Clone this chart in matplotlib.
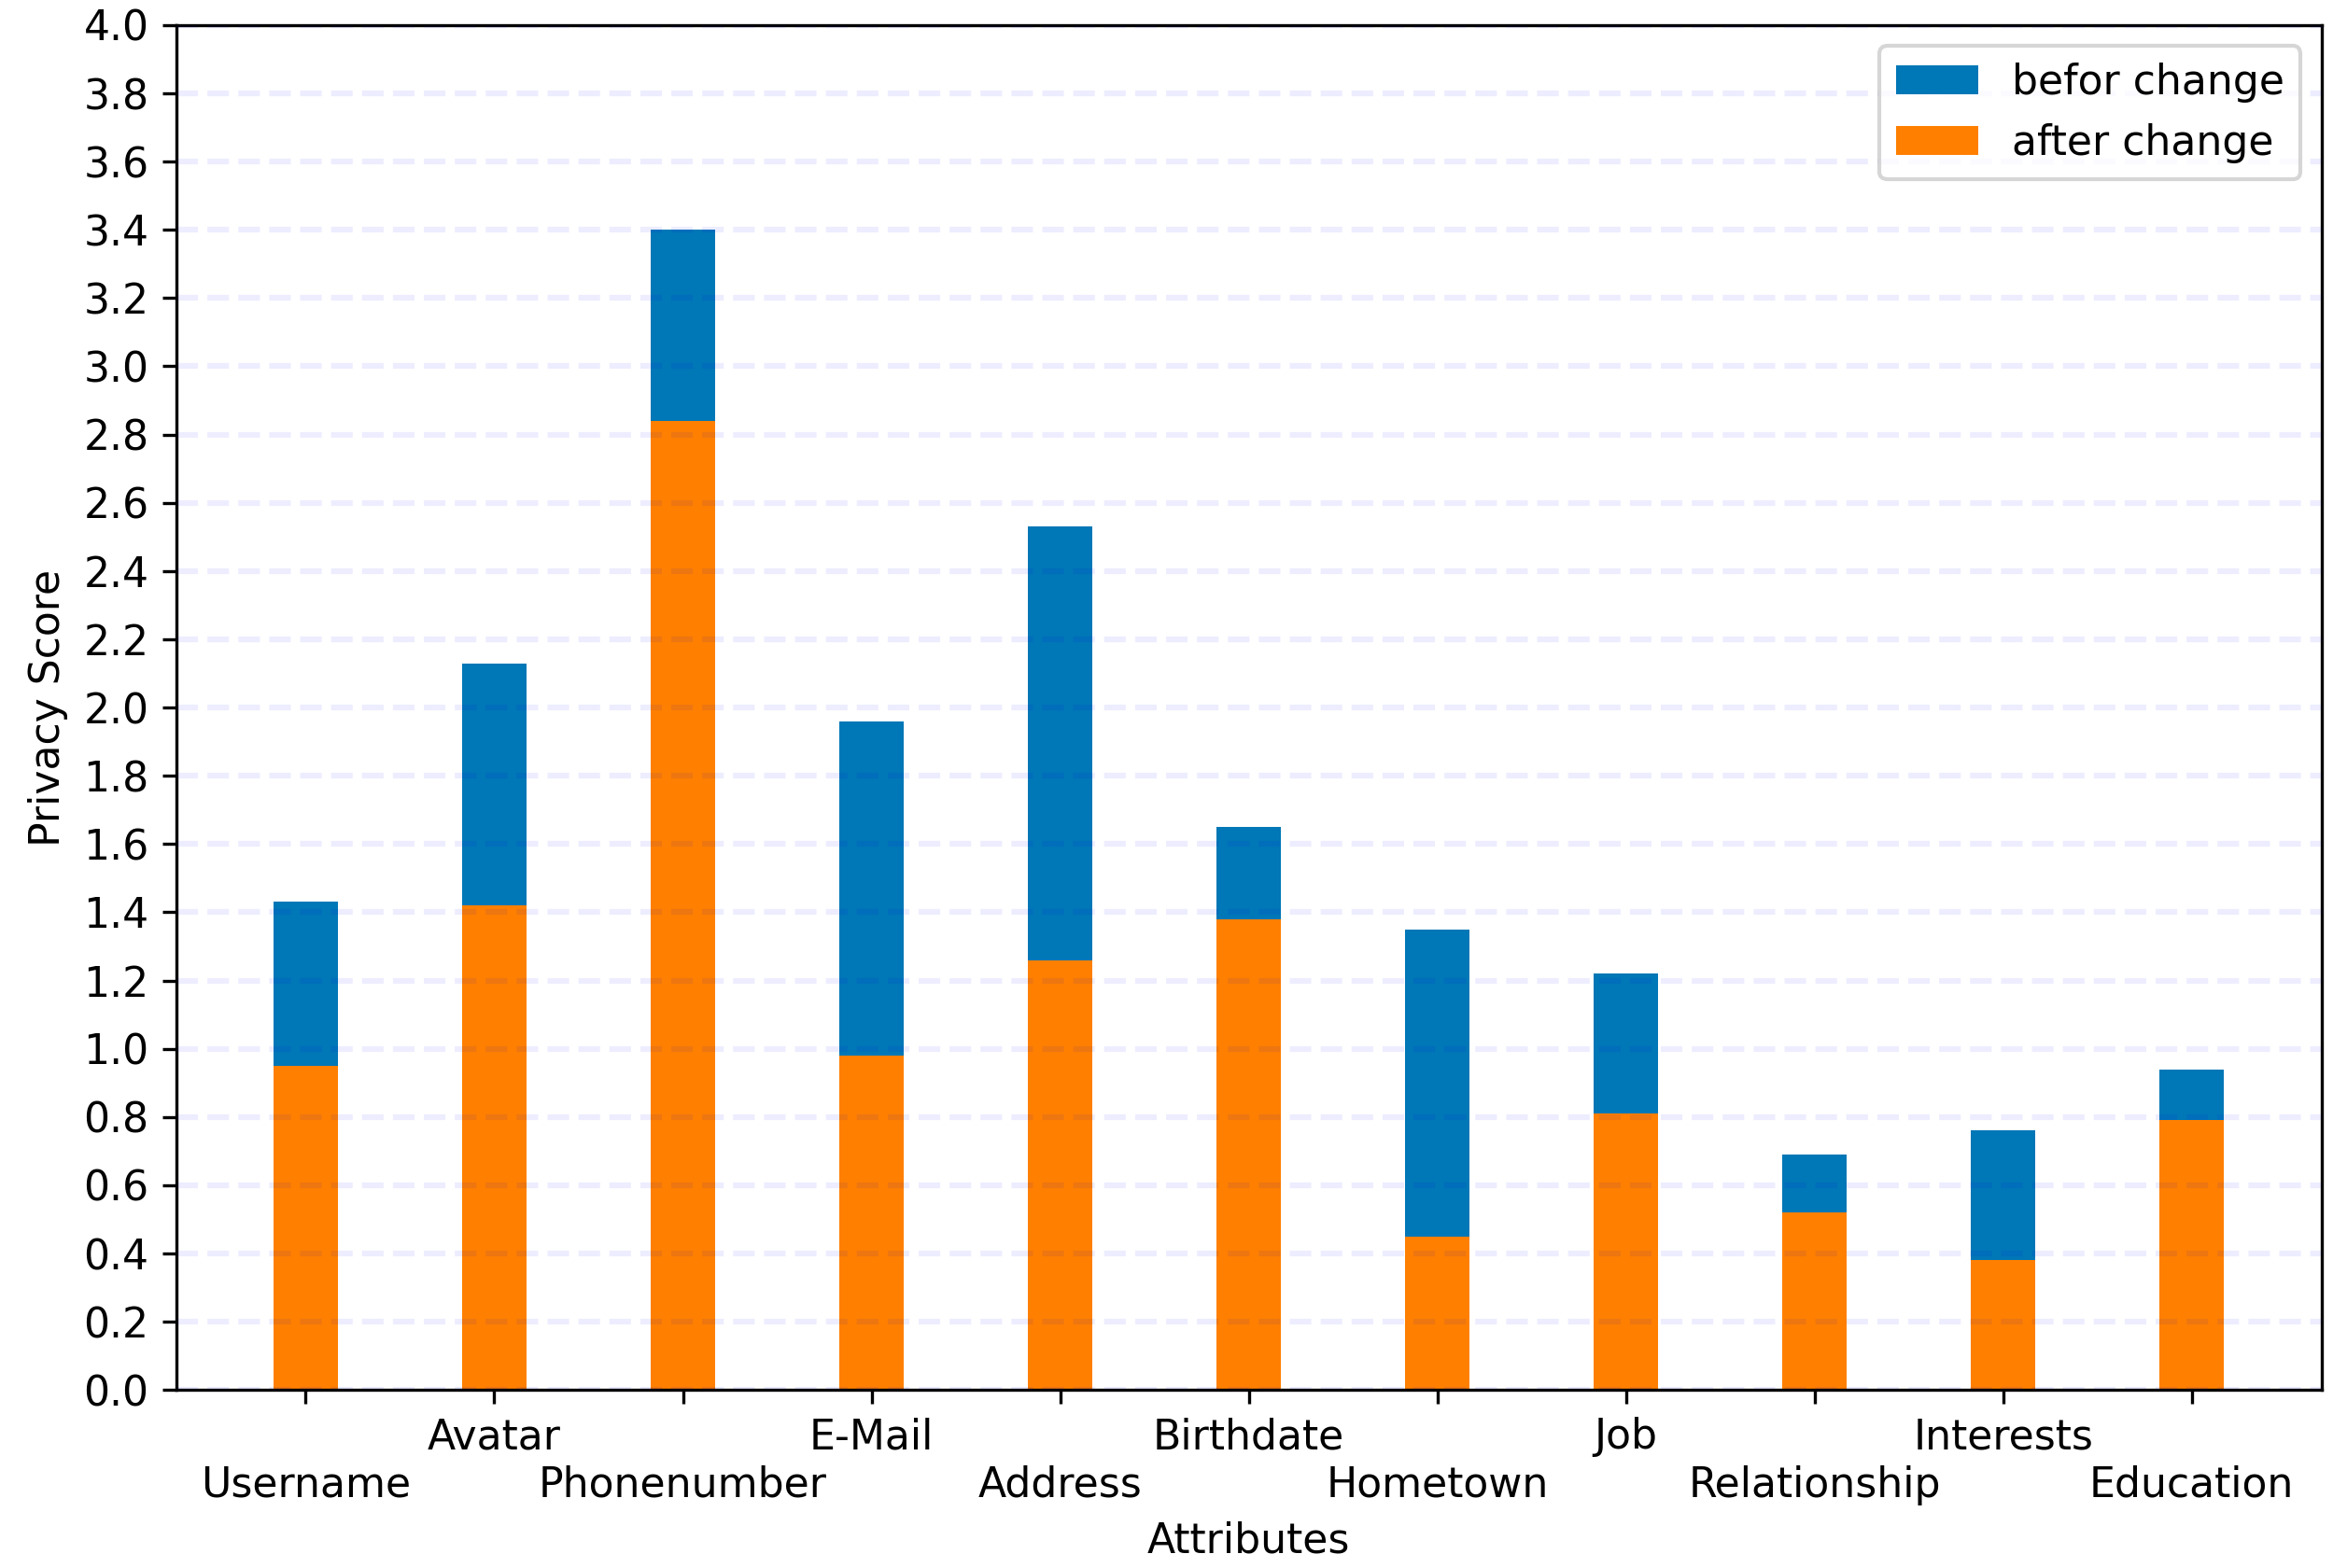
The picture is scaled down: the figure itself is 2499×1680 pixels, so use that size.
import matplotlib
matplotlib.use("Agg")
import matplotlib.pyplot as plt
import numpy as np

attributes = ["Username", "Avatar", "Phonenumber", "E-Mail", "Address", "Birthdate",
              "Hometown", "Job", "Relationship", "Interests", "Education"]
before = [1.43, 2.13, 3.40, 1.96, 2.53, 1.65, 1.35, 1.22, 0.69, 0.76, 0.94]
after = [0.95, 1.42, 2.84, 0.98, 1.26, 1.38, 0.45, 0.81, 0.52, 0.38, 0.79]

plt.rcParams['font.size'] = 10.6

x = np.arange(len(attributes))
width = 0.34

fig, ax = plt.subplots(figsize=(8.33, 5.6), dpi=300)
ax.bar(x, before, width, color="#0077b6", label="befor change", zorder=2)
ax.bar(x, after, width, color="#ff7f00", label="after change", zorder=2)

ax.set_xticks(x)
ax.set_xticklabels(attributes)
# alternate labels on two rows so they don't overlap
for i, tick in enumerate(ax.xaxis.get_major_ticks()):
    if i % 2 == 0:
        tick.set_pad(3.5 + 12.3)

ax.set_ylim(0, 4.0)
ax.set_yticks(np.arange(0, 4.01, 0.2))
ax.yaxis.grid(True, linestyle="--", color="blue", linewidth=1.5, alpha=0.07, zorder=3)
ax.set_axisbelow(False)

ax.set_xlabel("Attributes")
ax.set_ylabel("Privacy Score")
ax.legend(loc="upper right")

fig.subplots_adjust(left=0.0755, right=0.995, top=0.984, bottom=0.1135)
fig.savefig("out.png")
